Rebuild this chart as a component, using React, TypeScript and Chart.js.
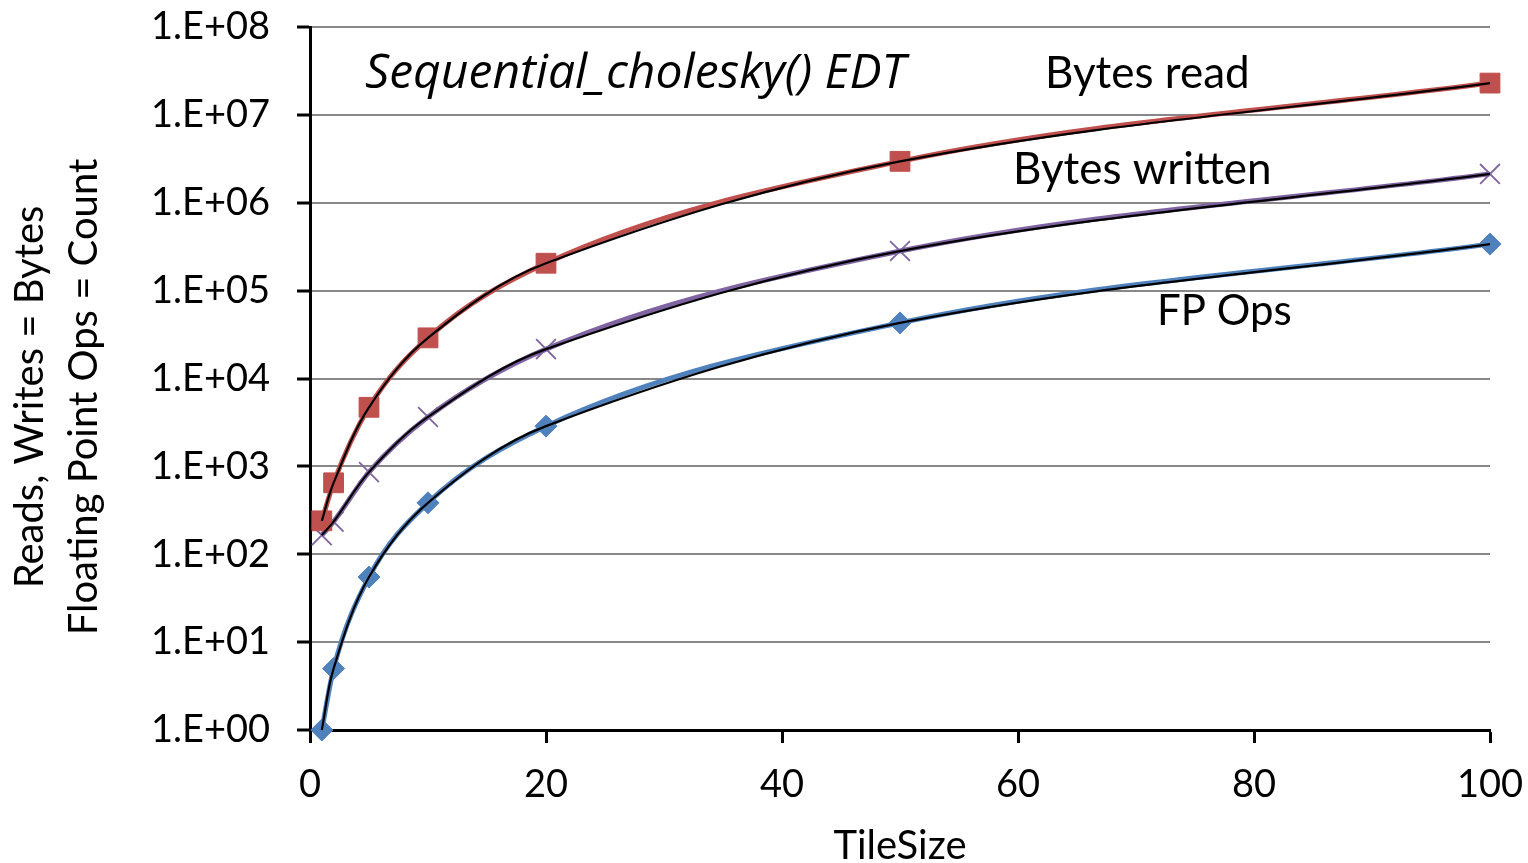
import React, { useEffect, useRef } from 'react';
import { Chart, registerables } from 'chart.js';

Chart.register(...registerables);

// ---- data ----
const tileSizes = [1, 2, 5, 10, 20, 50, 100];
const bytesRead = [240, 650, 4700, 29000, 205000, 2960000, 23000000];
const bytesWritten = [165, 235, 860, 3650, 21600, 282000, 2130000];
const fpOps = [1, 5, 55, 385, 2870, 42925, 338350];

const xTickValues = [0, 20, 40, 60, 80, 100];
const yTickValues = [1, 10, 100, 1000, 10000, 100000, 1000000, 10000000, 100000000];
const yTickLabels = ['1.E+00', '1.E+01', '1.E+02', '1.E+03', '1.E+04', '1.E+05', '1.E+06', '1.E+07', '1.E+08'];

const seriesNames = ['Bytes read', 'Bytes written', 'FP Ops'];
const chartTitle = 'Sequential_cholesky() EDT';
const xTitle = 'TileSize';
const yTitleLines = ['Reads, Writes = Bytes', 'Floating Point Ops = Count'];

const FONT = 'Lato, "Noto Sans", sans-serif';

const toPoints = (ys: number[]) => tileSizes.map((x, i) => ({ x, y: ys[i] }));

const textPlugin = {
  id: 'textPlugin',
  afterDraw(chart: any) {
    const ctx = chart.ctx;
    const area = chart.chartArea;
    ctx.save();
    ctx.fillStyle = '#000';
    ctx.textBaseline = 'alphabetic';
    ctx.textAlign = 'left';
    // annotations
    ctx.font = `italic 48px "Open Sans", sans-serif`;
    ctx.fillText(chartTitle, 365, 88);
    ctx.font = `44px ${FONT}`;
    ctx.fillText(seriesNames[0], 1045, 88);
    ctx.fillText(seriesNames[1], 1013, 184);
    ctx.font = `42px ${FONT}`;
    ctx.fillText(seriesNames[2], 1157, 325);
    // x title
    ctx.font = `40px ${FONT}`;
    ctx.textAlign = 'center';
    ctx.fillText(xTitle, (area.left + area.right) / 2, 859);
    // y title
    ctx.translate(0, 397);
    ctx.rotate(-Math.PI / 2);
    ctx.fillText(yTitleLines[0], 0, 43);
    ctx.fillText(yTitleLines[1], 0, 97);
    ctx.restore();
  },
};

export default function App() {
  const ref = useRef<HTMLCanvasElement>(null);
  useEffect(() => {
    if (!ref.current) return;
    const colored = (label: string, ys: number[], color: string, style: string, radius: number, extra: any = {}) => ({
      label,
      data: toPoints(ys),
      borderColor: color,
      backgroundColor: color,
      borderWidth: 5,
      pointStyle: style,
      pointRadius: radius,
      pointBorderColor: color,
      pointBackgroundColor: color,
      pointBorderWidth: 1,
      showLine: true,
      cubicInterpolationMode: 'monotone',
      clip: false,
      order: 1,
      ...extra,
    });
    const trend = (ys: number[]) => ({
      label: 'trend',
      data: toPoints(ys),
      borderColor: '#000',
      borderWidth: 2.2,
      pointRadius: 0,
      showLine: true,
      tension: 0.35,
      clip: false,
      order: 0,
    });
    const chart = new Chart(ref.current, {
      type: 'scatter',
      data: {
        datasets: [
          trend(bytesRead),
          trend(bytesWritten),
          trend(fpOps),
          colored(seriesNames[0], bytesRead, '#C0504D', 'rect', 14),
          colored(seriesNames[1], bytesWritten, '#8064A2', 'crossRot', 14, { pointBorderWidth: 1.8 }),
          colored(seriesNames[2], fpOps, '#4F81BD', 'rectRot', 11),
        ] as any,
      },
      options: {
        animation: false,
        responsive: false,
        layout: { padding: { top: 27, right: 38, left: 0, bottom: 0 } },
        plugins: { legend: { display: false }, tooltip: { enabled: false }, title: { display: false } },
        scales: {
          x: {
            type: 'linear',
            min: 0,
            max: 100,
            afterBuildTicks: (s: any) => {
              s.ticks = xTickValues.map((v) => ({ value: v }));
            },
            afterFit: (s: any) => {
              s.height = 133;
              s.paddingLeft = 0;
              s.paddingRight = 0;
            },
            grid: { drawOnChartArea: false, tickLength: 13, tickColor: '#000', tickWidth: 3, color: '#000' },
            border: { color: '#000', width: 3 },
            ticks: { color: '#000', font: { family: FONT, size: 38 }, padding: 19, maxRotation: 0 },
          },
          y: {
            type: 'logarithmic',
            min: 1,
            max: 100000000,
            afterBuildTicks: (s: any) => {
              s.ticks = yTickValues.map((v) => ({ value: v }));
            },
            afterFit: (s: any) => {
              s.width = 310;
              s.paddingTop = 0;
              s.paddingBottom = 0;
            },
            grid: { color: '#888888', lineWidth: 2, tickLength: 13, tickColor: '#000', tickWidth: 3 },
            border: { color: '#000', width: 3 },
            ticks: {
              color: '#000',
              font: { family: FONT, size: 38 },
              padding: 27,
              callback: (v: any) => {
                const i = yTickValues.indexOf(Number(v));
                return i >= 0 ? yTickLabels[i] : '';
              },
            },
          },
        },
      },
      plugins: [textPlugin],
    });
    return () => chart.destroy();
  }, []);
  return (
    <div style={{ position: 'fixed', left: 0, top: 0, width: 1528, height: 863, background: '#fff' }}>
      <canvas ref={ref} width={1528} height={863} />
    </div>
  );
}
